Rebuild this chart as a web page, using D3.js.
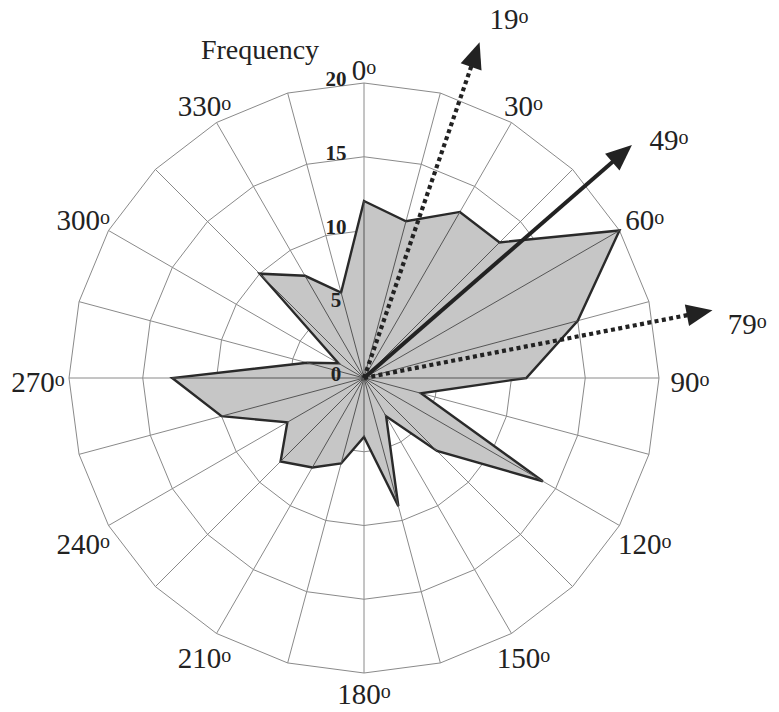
<!DOCTYPE html>
<html>
<head>
<meta charset="utf-8">
<script src="https://cdn.jsdelivr.net/npm/d3@7"></script>
<style>
  html, body { margin: 0; padding: 0; background: #fff; }
  svg { display: block; }
  text { font-family: "Liberation Serif", "DejaVu Serif", serif; fill: #222; }
</style>
</head>
<body>
<svg id="chart" width="779" height="712"></svg>
<script>
// Direction classes (degrees, clockwise from north) and their frequencies
const directions = [0, 15, 30, 45, 60, 75, 90, 105, 120, 135, 150, 165,
                    180, 195, 210, 225, 240, 255, 270, 285, 300, 315, 330, 345];
const frequency  = [12, 11, 13, 13, 20, 15, 11, 4, 14, 7, 3, 9,
                    4, 6, 7, 8, 6, 10, 13, 4, 2, 10, 8, 6];

// Radial axis ticks and labelled compass angles
const radialTicks = [0, 5, 10, 15, 20];
const angleLabels = [0, 30, 60, 90, 120, 150, 180, 210, 240, 270, 300, 330];

// Mean directions shown as arrows
const meanArrows = [
  { angle: 19, style: "dotted" },
  { angle: 49, style: "solid" },
  { angle: 79, style: "dotted" }
];

const svg = d3.select("#chart");
const cx = 364, cy = 378;
const g = svg.append("g").attr("transform", `translate(${cx},${cy})`);

const r = d3.scaleLinear().domain([0, 20]).range([0, 295]);
const toRad = d => d * Math.PI / 180;

// Polygonal grid rings through every direction spoke
const ringLine = d3.lineRadial()
  .angle(d => toRad(d.a))
  .radius(d => r(d.v))
  .curve(d3.curveLinearClosed);

radialTicks.filter(t => t > 0).forEach(t => {
  g.append("path")
    .attr("d", ringLine(directions.map(a => ({ a, v: t }))))
    .attr("fill", "none")
    .attr("stroke", "#8a8a8a")
    .attr("stroke-width", 1);
});

// Grid spokes out to the outer ring
g.selectAll("line.spoke")
  .data(directions)
  .join("line")
  .attr("class", "spoke")
  .attr("x1", 0).attr("y1", 0)
  .attr("x2", d => d3.pointRadial(toRad(d), r(20))[0])
  .attr("y2", d => d3.pointRadial(toRad(d), r(20))[1])
  .attr("stroke", "#8a8a8a")
  .attr("stroke-width", 1);

// Frequency polygon
const data = directions.map((a, i) => ({ a, v: frequency[i] }));
g.append("path")
  .attr("d", ringLine(data))
  .attr("fill", "#c6c6c6")
  .attr("stroke", "#2a2a2a")
  .attr("stroke-width", 2.4)
  .attr("stroke-linejoin", "miter");

// Spokes from the centre to each polygon vertex
g.selectAll("line.inner")
  .data(data)
  .join("line")
  .attr("class", "inner")
  .attr("x1", 0).attr("y1", 0)
  .attr("x2", d => d3.pointRadial(toRad(d.a), r(d.v))[0])
  .attr("y2", d => d3.pointRadial(toRad(d.a), r(d.v))[1])
  .attr("stroke", "#555")
  .attr("stroke-width", 1);

// Radial tick labels along the north spoke
g.selectAll("text.rtick")
  .data(radialTicks)
  .join("text")
  .attr("class", "rtick")
  .attr("x", -28)
  .attr("y", d => -r(d) + 3)
  .attr("text-anchor", "middle")
  .style("font-size", "21px")
  .style("font-weight", "bold")
  .text(d => d);

// Compass angle labels
const labelRadius = a => 312 + 14 * Math.abs(Math.sin(toRad(a)));
const al = g.selectAll("text.alabel")
  .data(angleLabels)
  .join("text")
  .attr("class", "alabel")
  .attr("x", d => d3.pointRadial(toRad(d), labelRadius(d))[0])
  .attr("y", d => d3.pointRadial(toRad(d), labelRadius(d))[1] + 4 + 10)
  .attr("text-anchor", "middle")
  .attr("font-size", 29);
al.append("tspan").text(d => d);
al.append("tspan").attr("font-size", 20).attr("dy", -6).text("o");

// Mean-direction arrows
const arrowLen = 355, headLen = 26, headHalf = 11;
meanArrows.forEach(m => {
  const th = toRad(m.angle);
  const tip = d3.pointRadial(th, arrowLen);
  const base = d3.pointRadial(th, arrowLen - headLen);
  const lineEnd = d3.pointRadial(th, arrowLen - headLen + 4);
  // perpendicular direction
  const px = Math.cos(th), py = Math.sin(th);
  g.append("line")
    .attr("x1", 0).attr("y1", 0)
    .attr("x2", lineEnd[0]).attr("y2", lineEnd[1])
    .attr("stroke", "#222")
    .attr("stroke-width", m.style === "solid" ? 4 : 4.2)
    .attr("stroke-dasharray", m.style === "solid" ? null : "4 3.4");
  g.append("path")
    .attr("d", `M${tip[0]},${tip[1]} L${base[0] + px * headHalf},${base[1] + py * headHalf} L${base[0] - px * headHalf},${base[1] - py * headHalf} Z`)
    .attr("fill", "#222");
  const lp = d3.pointRadial(toRad(m.angle + 3), 387);
  const t = g.append("text")
    .attr("x", lp[0]).attr("y", lp[1] + 10)
    .attr("text-anchor", "middle")
    .attr("font-size", 29);
  t.append("tspan").text(m.angle);
  t.append("tspan").attr("font-size", 20).attr("dy", -6).text("o");
});

// Radial axis title
svg.append("text")
  .attr("x", 260).attr("y", 59)
  .attr("text-anchor", "middle")
  .attr("font-size", 28)
  .text("Frequency");
</script>
</body>
</html>
